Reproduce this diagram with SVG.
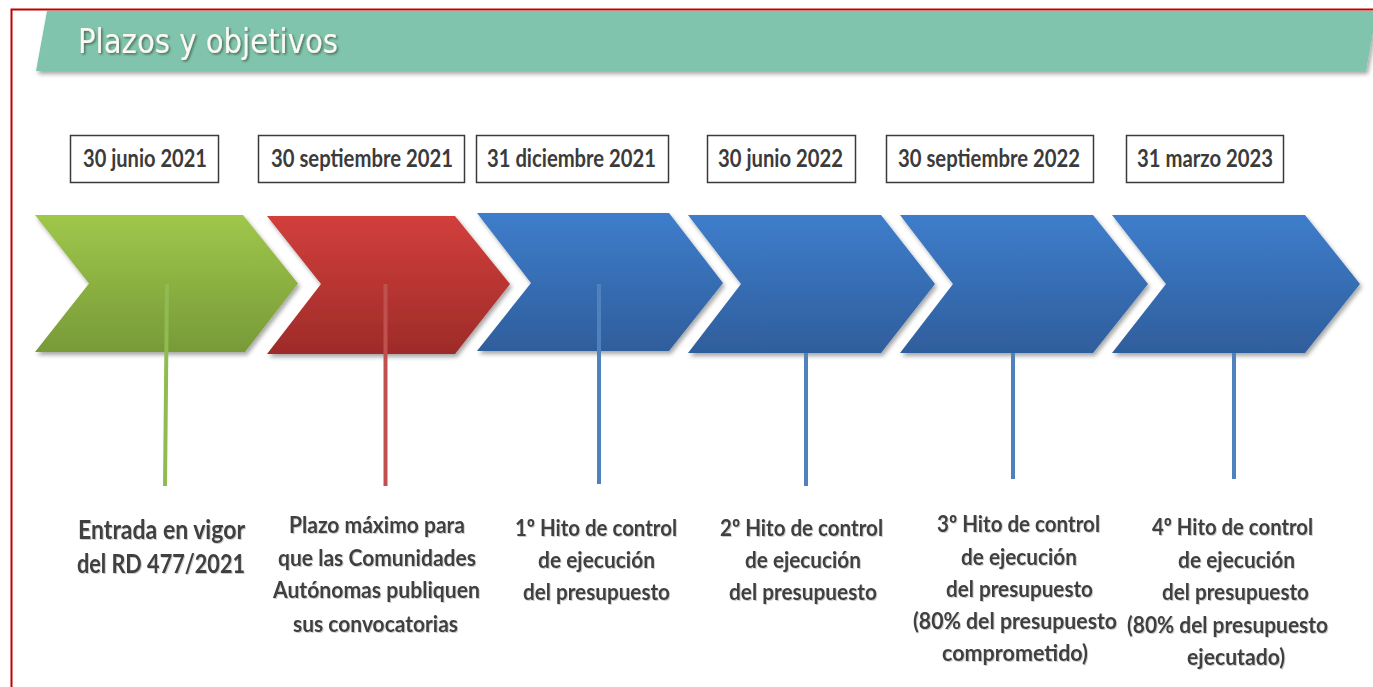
<svg xmlns="http://www.w3.org/2000/svg" width="1373" height="687" viewBox="0 0 1373 687">
<style>
.date-box{fill:#ffffff;stroke:#3a3a3a;stroke-width:1.5}
.date{font-family:Lato,"Liberation Sans",sans-serif;font-weight:bold;font-size:24px;fill:#3b3b3b}
.lbl{font-family:Lato,"Liberation Sans",sans-serif;font-weight:bold;font-size:23px;fill:#3f3f3f}
.big{font-size:26px}
.stem{stroke-width:4;fill:none}
</style>
<defs>
<linearGradient id="gGreen" x1="0" y1="0" x2="0" y2="1"><stop offset="0" stop-color="#9fc74a"/><stop offset="1" stop-color="#789a39"/></linearGradient>
<linearGradient id="gRed" x1="0" y1="0" x2="0" y2="1"><stop offset="0" stop-color="#d23f3c"/><stop offset="1" stop-color="#9e2b29"/></linearGradient>
<linearGradient id="gBlue" x1="0" y1="0" x2="0" y2="1"><stop offset="0" stop-color="#3e7dcb"/><stop offset="1" stop-color="#2f5e9c"/></linearGradient>
<filter id="shadow" x="-5%" y="-10%" width="115%" height="130%"><feDropShadow dx="2" dy="3" stdDeviation="2" flood-color="#000" flood-opacity="0.35"/></filter>
<filter id="tshadow" x="-5%" y="-20%" width="110%" height="150%"><feDropShadow dx="1.5" dy="1.5" stdDeviation="0.8" flood-color="#000" flood-opacity="0.45"/></filter>
<filter id="lshadow" x="-5%" y="-20%" width="110%" height="150%"><feDropShadow dx="1" dy="1" stdDeviation="0.6" flood-color="#000" flood-opacity="0.2"/></filter>
</defs>
<rect width="1373" height="687" fill="#ffffff"/>
<path d="M11.5 700 V9.5 H1380" fill="none" stroke="#c00000" stroke-width="2"/>
<g id="header">
<polygon points="47,11 1377,11 1366,71 36,71" fill="#81c4ad" filter="url(#shadow)"/>
<text x="78" y="53" font-family="DejaVu Sans,sans-serif" font-size="34" fill="#fbf9f1" textLength="260" lengthAdjust="spacingAndGlyphs" filter="url(#tshadow)">Plazos y objetivos</text>
</g>
<g id="dates" lengthAdjust="spacingAndGlyphs">
<g id="date1"><rect class="date-box" x="70.5" y="135.5" width="148" height="47"/><text class="date" x="83" y="167" textLength="124" lengthAdjust="spacingAndGlyphs">30 junio 2021</text></g>
<g id="date2"><rect class="date-box" x="258.5" y="135.5" width="206" height="47"/><text class="date" x="271" y="167" textLength="182" lengthAdjust="spacingAndGlyphs">30 septiembre 2021</text></g>
<g id="date3"><rect class="date-box" x="476.5" y="135.5" width="192" height="47"/><text class="date" x="487" y="167" textLength="169" lengthAdjust="spacingAndGlyphs">31 diciembre 2021</text></g>
<g id="date4"><rect class="date-box" x="707.5" y="135.5" width="148" height="47"/><text class="date" x="718" y="167" textLength="125" lengthAdjust="spacingAndGlyphs">30 junio 2022</text></g>
<g id="date5"><rect class="date-box" x="886.5" y="135.5" width="207" height="47"/><text class="date" x="898" y="167" textLength="182" lengthAdjust="spacingAndGlyphs">30 septiembre 2022</text></g>
<g id="date6"><rect class="date-box" x="1126.5" y="135.5" width="157" height="47"/><text class="date" x="1137" y="167" textLength="136" lengthAdjust="spacingAndGlyphs">31 marzo 2023</text></g>
</g>
<g id="chevrons">
<polygon id="chev1" points="35,215 243,215 298,283.5 245,352 35,352 89,283.5" fill="url(#gGreen)" filter="url(#shadow)"/>
<polygon id="chev2" points="267,216 455,216 510,284 455,354 267,354 321,284" fill="url(#gRed)" filter="url(#shadow)"/>
<polygon id="chev3" points="477,213 669,213 723,283 669,351 477,351 531,283" fill="url(#gBlue)" filter="url(#shadow)"/>
<polygon id="chev4" points="688,215 881,215 935,284 881,353 688,353 741,284" fill="url(#gBlue)" filter="url(#shadow)"/>
<polygon id="chev5" points="900,215 1093,215 1148,284 1093,353 900,353 953,284" fill="url(#gBlue)" filter="url(#shadow)"/>
<polygon id="chev6" points="1112,215 1305,215 1360,284 1305,353 1112,353 1166,284" fill="url(#gBlue)" filter="url(#shadow)"/>
</g>
<g id="connectors">
<line class="stem" x1="167" y1="284" x2="165" y2="486" stroke="#8fbb50"/>
<line class="stem" x1="385.5" y1="284" x2="385.5" y2="486" stroke="#c0504d"/>
<line class="stem" x1="599" y1="284" x2="599" y2="484" stroke="#4f81bd"/>
<line class="stem" x1="806" y1="353" x2="806" y2="486" stroke="#4f81bd"/>
<line class="stem" x1="1013" y1="353" x2="1013" y2="479" stroke="#4f81bd"/>
<line class="stem" x1="1234" y1="353" x2="1234" y2="479" stroke="#4f81bd"/>
</g>
<g id="labels" filter="url(#lshadow)">
<g id="label1"><text class="lbl big" x="78" y="539" textLength="167" lengthAdjust="spacingAndGlyphs">Entrada en vigor</text><text class="lbl big" x="77" y="573" textLength="168" lengthAdjust="spacingAndGlyphs">del RD 477/2021</text></g>
<g id="label2"><text class="lbl" x="289" y="533" textLength="176" lengthAdjust="spacingAndGlyphs">Plazo máximo para</text><text class="lbl" x="278" y="566" textLength="198" lengthAdjust="spacingAndGlyphs">que las Comunidades</text><text class="lbl" x="273" y="598" textLength="207" lengthAdjust="spacingAndGlyphs">Autónomas publiquen</text><text class="lbl" x="293" y="632" textLength="165" lengthAdjust="spacingAndGlyphs">sus convocatorias</text></g>
<g id="label3"><text class="lbl" x="515" y="536" textLength="162" lengthAdjust="spacingAndGlyphs">1º Hito de control</text><text class="lbl" x="538" y="568" textLength="117" lengthAdjust="spacingAndGlyphs">de ejecución</text><text class="lbl" x="523" y="600" textLength="147" lengthAdjust="spacingAndGlyphs">del presupuesto</text></g>
<g id="label4"><text class="lbl" x="720" y="536" textLength="163" lengthAdjust="spacingAndGlyphs">2º Hito de control</text><text class="lbl" x="745" y="568" textLength="116" lengthAdjust="spacingAndGlyphs">de ejecución</text><text class="lbl" x="729" y="600" textLength="148" lengthAdjust="spacingAndGlyphs">del presupuesto</text></g>
<g id="label5"><text class="lbl" x="937" y="532" textLength="163" lengthAdjust="spacingAndGlyphs">3º Hito de control</text><text class="lbl" x="961" y="565" textLength="116" lengthAdjust="spacingAndGlyphs">de ejecución</text><text class="lbl" x="946" y="597" textLength="147" lengthAdjust="spacingAndGlyphs">del presupuesto</text><text class="lbl" x="913" y="629" textLength="204" lengthAdjust="spacingAndGlyphs">(80% del presupuesto</text><text class="lbl" x="942" y="661" textLength="146" lengthAdjust="spacingAndGlyphs">comprometido)</text></g>
<g id="label6"><text class="lbl" x="1152" y="535" textLength="161" lengthAdjust="spacingAndGlyphs">4º Hito de control</text><text class="lbl" x="1178" y="568" textLength="117" lengthAdjust="spacingAndGlyphs">de ejecución</text><text class="lbl" x="1162" y="600" textLength="147" lengthAdjust="spacingAndGlyphs">del presupuesto</text><text class="lbl" x="1127" y="633" textLength="201" lengthAdjust="spacingAndGlyphs">(80% del presupuesto</text><text class="lbl" x="1187" y="665" textLength="98" lengthAdjust="spacingAndGlyphs">ejecutado)</text></g>
</g>
</svg>
